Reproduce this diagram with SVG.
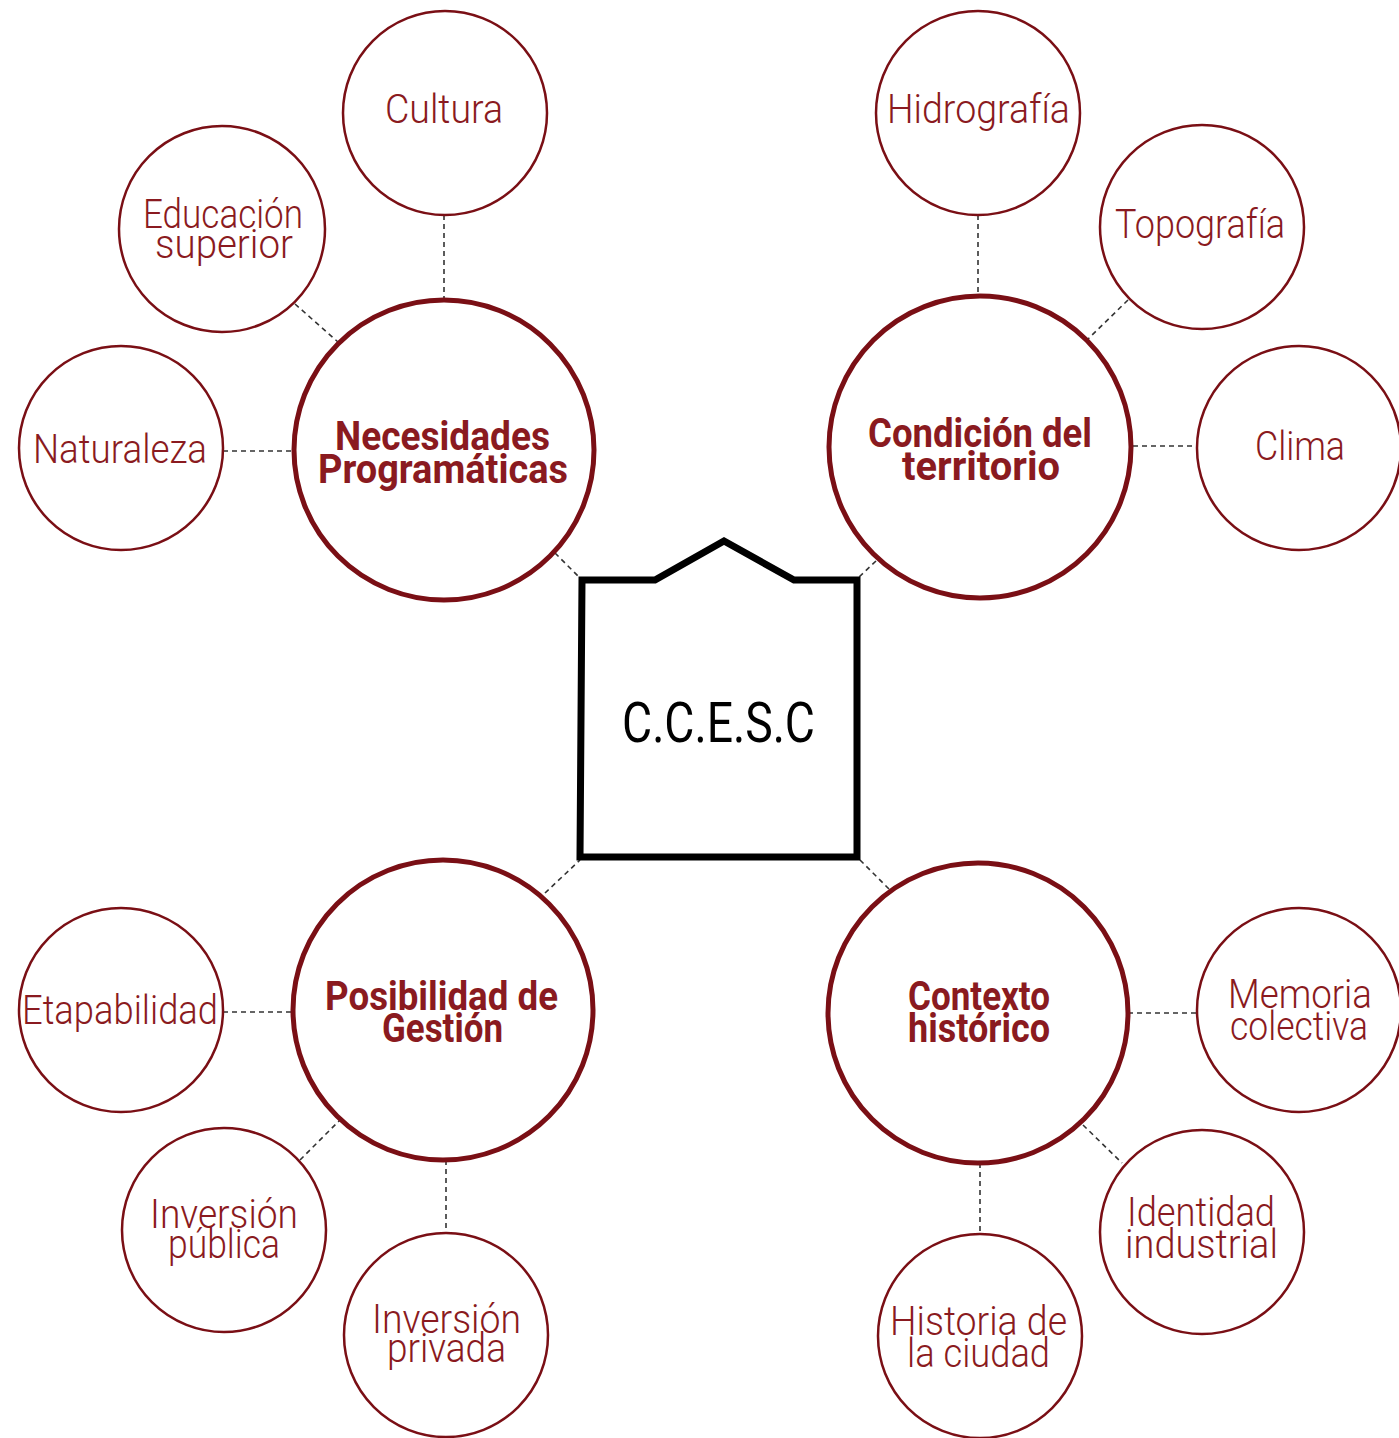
<svg xmlns="http://www.w3.org/2000/svg" width="1399" height="1438" viewBox="0 0 1399 1438">
<style>
.big{fill:#fff;stroke:#7a0f15;stroke-width:5}
.small{fill:#fff;stroke:#7a0f15;stroke-width:2.5}
.conn line{stroke:#333;stroke-width:1.6;stroke-dasharray:5 4;fill:none}
.lb{font-family:Roboto,"Liberation Sans",sans-serif;font-weight:300;font-size:40px;fill:#8a1a20}
.bl{font-family:Roboto,"Liberation Sans",sans-serif;font-weight:700;font-size:40px;fill:#8a1a20}
.ct{font-family:Roboto,"Liberation Sans",sans-serif;font-weight:400;font-size:56px;fill:#000}
</style>
<rect width="1399" height="1438" fill="#fff"/>
<g class="conn" id="connectors">
<line x1="444" y1="215" x2="444" y2="299"/>
<line x1="295" y1="304" x2="338" y2="342"/>
<line x1="223" y1="451" x2="293" y2="451"/>
<line x1="555" y1="553" x2="580" y2="578"/>
<line x1="978" y1="215" x2="978" y2="295"/>
<line x1="1128" y1="300" x2="1087" y2="340"/>
<line x1="1133" y1="446" x2="1197" y2="446"/>
<line x1="876" y1="561" x2="858" y2="578"/>
<line x1="545" y1="893" x2="580" y2="860"/>
<line x1="860" y1="860" x2="890" y2="890"/>
<line x1="223" y1="1012" x2="293" y2="1012"/>
<line x1="300" y1="1160" x2="340" y2="1120"/>
<line x1="446" y1="1160" x2="446" y2="1233"/>
<line x1="1128" y1="1013" x2="1197" y2="1013"/>
<line x1="1083" y1="1125" x2="1122" y2="1163"/>
<line x1="980" y1="1163" x2="980" y2="1233"/>
</g>
<g id="ccesc">
<path d="M582,580 L655,580 L724,541 L794,580 L857,580 L857,857 L580,857 Z" fill="#fff" stroke="#000" stroke-width="7" stroke-linejoin="miter"/>
<text class="ct" x="622" y="742" textLength="193" lengthAdjust="spacingAndGlyphs">C.C.E.S.C</text>
</g>
<g id="necesidades">
<circle class="big" cx="444" cy="450" r="150"/>
<text class="bl" x="335" y="450" textLength="215" lengthAdjust="spacingAndGlyphs">Necesidades</text>
<text class="bl" x="318" y="483" textLength="250" lengthAdjust="spacingAndGlyphs">Programáticas</text>
</g>
<g id="condicion">
<circle class="big" cx="980" cy="447" r="151"/>
<text class="bl" x="868" y="447" textLength="224" lengthAdjust="spacingAndGlyphs">Condición del</text>
<text class="bl" x="902" y="480" textLength="158" lengthAdjust="spacingAndGlyphs">territorio</text>
</g>
<g id="posibilidad">
<circle class="big" cx="443" cy="1010" r="150"/>
<text class="bl" x="325" y="1010" textLength="233" lengthAdjust="spacingAndGlyphs">Posibilidad de</text>
<text class="bl" x="382" y="1042" textLength="121" lengthAdjust="spacingAndGlyphs">Gestión</text>
</g>
<g id="contexto">
<circle class="big" cx="978" cy="1013" r="150"/>
<text class="bl" x="908" y="1010" textLength="142" lengthAdjust="spacingAndGlyphs">Contexto</text>
<text class="bl" x="908" y="1042" textLength="142" lengthAdjust="spacingAndGlyphs">histórico</text>
</g>
<g id="cultura">
<circle class="small" cx="445" cy="113" r="102"/>
<text class="lb" x="385" y="123" textLength="118" lengthAdjust="spacingAndGlyphs">Cultura</text>
</g>
<g id="educacion">
<circle class="small" cx="222" cy="229" r="103"/>
<text class="lb" x="143" y="228" textLength="160" lengthAdjust="spacingAndGlyphs">Educación</text>
<text class="lb" x="155" y="258" textLength="138" lengthAdjust="spacingAndGlyphs">superior</text>
</g>
<g id="naturaleza">
<circle class="small" cx="121" cy="448" r="102"/>
<text class="lb" x="33" y="463" textLength="174" lengthAdjust="spacingAndGlyphs">Naturaleza</text>
</g>
<g id="hidrografia">
<circle class="small" cx="978" cy="113" r="102"/>
<text class="lb" x="887" y="123" textLength="183" lengthAdjust="spacingAndGlyphs">Hidrografía</text>
</g>
<g id="topografia">
<circle class="small" cx="1202" cy="227" r="102"/>
<text class="lb" x="1115" y="238" textLength="170" lengthAdjust="spacingAndGlyphs">Topografía</text>
</g>
<g id="clima">
<circle class="small" cx="1299" cy="448" r="102"/>
<text class="lb" x="1255" y="460" textLength="90" lengthAdjust="spacingAndGlyphs">Clima</text>
</g>
<g id="etapabilidad">
<circle class="small" cx="121" cy="1010" r="102"/>
<text class="lb" x="22" y="1024" textLength="196" lengthAdjust="spacingAndGlyphs">Etapabilidad</text>
</g>
<g id="inversion-publica">
<circle class="small" cx="224" cy="1230" r="102"/>
<text class="lb" x="150" y="1228" textLength="148" lengthAdjust="spacingAndGlyphs">Inversión</text>
<text class="lb" x="168" y="1258" textLength="112" lengthAdjust="spacingAndGlyphs">pública</text>
</g>
<g id="inversion-privada">
<circle class="small" cx="446" cy="1335" r="102"/>
<text class="lb" x="372" y="1333" textLength="149" lengthAdjust="spacingAndGlyphs">Inversión</text>
<text class="lb" x="387" y="1362" textLength="119" lengthAdjust="spacingAndGlyphs">privada</text>
</g>
<g id="memoria">
<circle class="small" cx="1299" cy="1010" r="102"/>
<text class="lb" x="1228" y="1008" textLength="144" lengthAdjust="spacingAndGlyphs">Memoria</text>
<text class="lb" x="1230" y="1040" textLength="138" lengthAdjust="spacingAndGlyphs">colectiva</text>
</g>
<g id="identidad">
<circle class="small" cx="1202" cy="1232" r="102"/>
<text class="lb" x="1127" y="1226" textLength="148" lengthAdjust="spacingAndGlyphs">Identidad</text>
<text class="lb" x="1125" y="1258" textLength="153" lengthAdjust="spacingAndGlyphs">industrial</text>
</g>
<g id="historia">
<circle class="small" cx="980" cy="1336" r="102"/>
<text class="lb" x="890" y="1335" textLength="177" lengthAdjust="spacingAndGlyphs">Historia de</text>
<text class="lb" x="907" y="1367" textLength="143" lengthAdjust="spacingAndGlyphs">la ciudad</text>
</g>
</svg>
